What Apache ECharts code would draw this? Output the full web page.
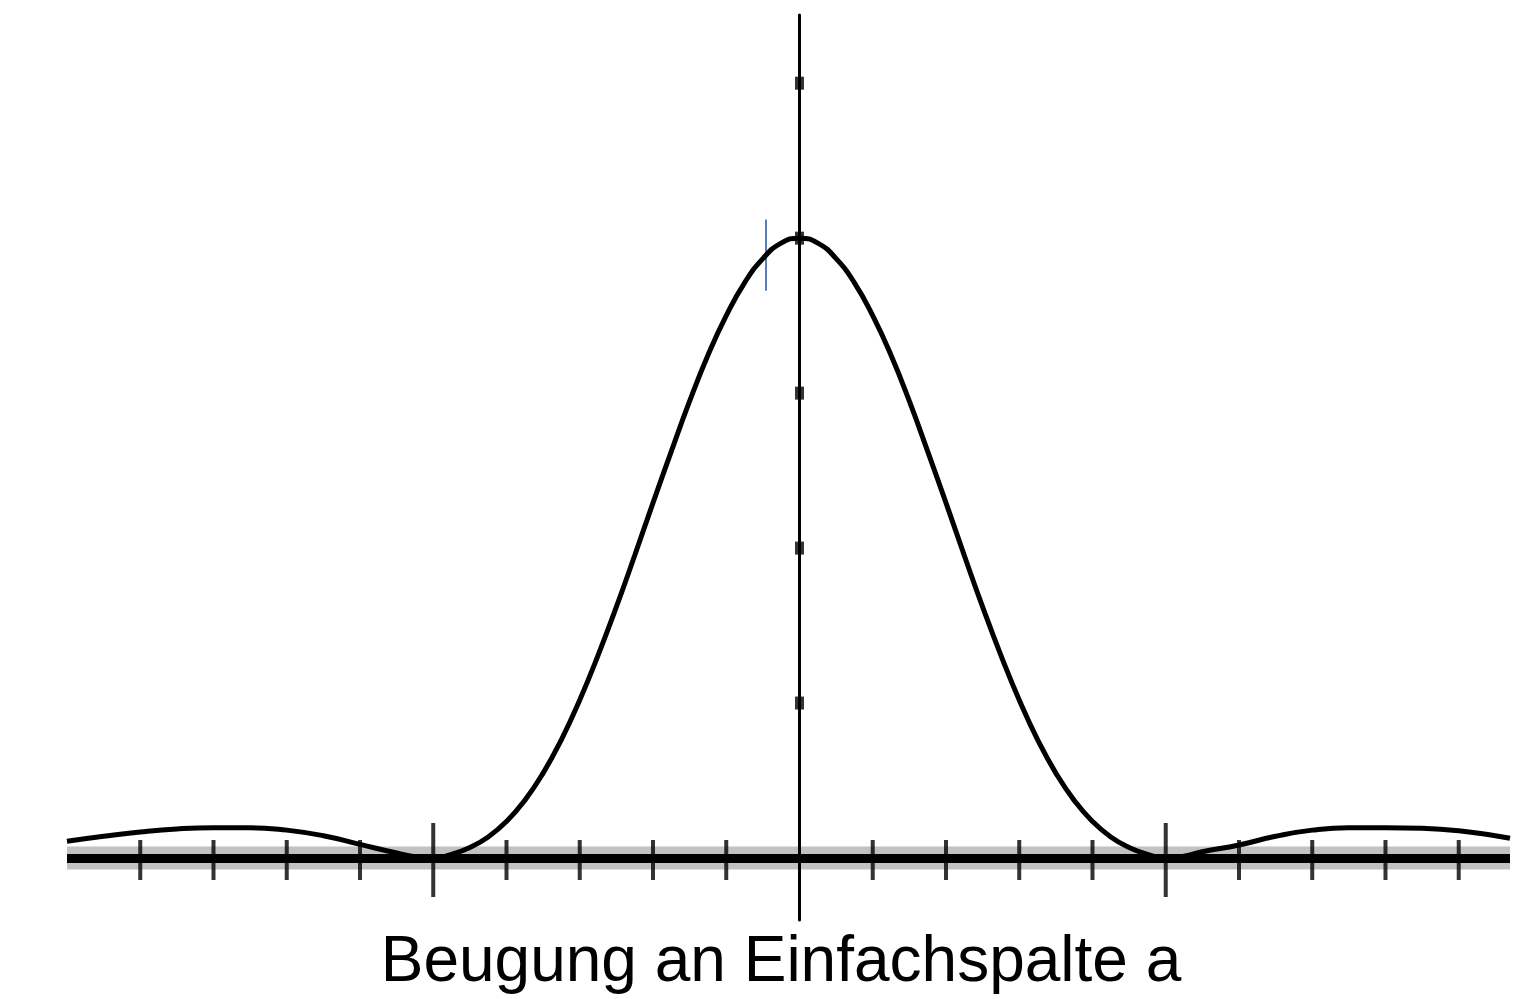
<!DOCTYPE html>
<html>
<head>
<meta charset="utf-8">
<title>Beugung an Einfachspalte a</title>
<script src="https://cdn.jsdelivr.net/npm/echarts@6/dist/echarts.min.js"></script>
<style>
  html, body { margin: 0; padding: 0; background: #ffffff; }
  #chart { width: 1517px; height: 999px; }
</style>
</head>
<body>
<div id="chart"></div>
<script>
// Position on the screen in units of the first minimum (sin α = λ/a)
const positions = [
  -2.0, -1.9, -1.8, -1.7, -1.6, -1.5, -1.4, -1.3, -1.2, -1.1, -1.05,
  -1.0, -0.95, -0.9, -0.85, -0.8, -0.75, -0.7, -0.65, -0.6, -0.55, -0.5,
  -0.45, -0.4, -0.35, -0.3, -0.25, -0.2, -0.15, -0.1, -0.05, 0.0,
  0.05, 0.1, 0.15, 0.2, 0.25, 0.3, 0.35, 0.4, 0.45, 0.5,
  0.55, 0.6, 0.65, 0.7, 0.75, 0.8, 0.85, 0.9, 0.95, 1.0,
  1.05, 1.1, 1.2, 1.3, 1.4, 1.5, 1.6, 1.7, 1.8, 1.9, 1.94
];

// Relative intensity I / I0
const intensity = [
  0.027, 0.035, 0.042, 0.047, 0.049, 0.049, 0.045, 0.036, 0.022, 0.008, 0.002,
  0.000, 0.006, 0.017, 0.034, 0.059, 0.093, 0.137, 0.191, 0.255, 0.327, 0.405,
  0.488, 0.573, 0.656, 0.737, 0.811, 0.875, 0.928, 0.967, 0.992, 1.000,
  0.992, 0.967, 0.928, 0.875, 0.811, 0.737, 0.656, 0.573, 0.488, 0.405,
  0.327, 0.255, 0.191, 0.137, 0.093, 0.059, 0.034, 0.017, 0.006, 0.000,
  0.003, 0.010, 0.021, 0.035, 0.045, 0.049, 0.049, 0.048, 0.044, 0.036, 0.032
];

// Tick marks on the screen axis
const minorTicks = [-1.8, -1.6, -1.4, -1.2, -0.8, -0.6, -0.4, -0.2,
                    0.2, 0.4, 0.6, 0.8, 1.2, 1.4, 1.6, 1.8];
const majorTicks = [-1.0, 1.0];

// Tick marks on the intensity axis
const intensityTicks = [0.25, 0.5, 0.75, 1.0, 1.25];

// Short pencil stroke near the top of the maximum
const pencilStroke = { x: -0.093, from: 0.915, to: 1.03 };

const titleText = 'Beugung an Einfachspalte a';

const chart = echarts.init(document.getElementById('chart'), null, { renderer: 'canvas' });

const option = {
  backgroundColor: '#ffffff',
  animation: false,
  grid: { left: 67, right: 7, top: 15, bottom: 79, containLabel: false },
  xAxis: {
    type: 'value',
    min: -2,
    max: 1.94,
    z: 3,
    axisLine: { show: true, onZero: true, lineStyle: { color: '#000000', width: 9, cap: 'butt' } },
    axisTick: { show: false },
    axisLabel: { show: false },
    splitLine: { show: false }
  },
  yAxis: {
    type: 'value',
    min: -0.1,
    max: 1.36,
    z: 3,
    axisLine: { show: true, onZero: true, lineStyle: { color: '#000000', width: 3 } },
    axisTick: { show: false },
    axisLabel: { show: false },
    splitLine: { show: false }
  },
  series: [
    {
      // grey halo along the screen axis
      type: 'line',
      data: [],
      z: 1,
      silent: true,
      markArea: {
        silent: true,
        itemStyle: { color: '#c2c2c2' },
        data: [[{ yAxis: -0.0185 }, { yAxis: 0.0185 }]]
      }
    },
    {
      type: 'scatter',
      z: 4,
      silent: true,
      symbol: 'rect',
      symbolSize: [4, 40],
      symbolOffset: [0, 2],
      itemStyle: { color: '#000000' },
      data: minorTicks.map(v => [v, 0])
    },
    {
      type: 'scatter',
      z: 4,
      silent: true,
      symbol: 'rect',
      symbolSize: [4, 74],
      symbolOffset: [0, 2],
      itemStyle: { color: '#000000' },
      data: majorTicks.map(v => [v, 0])
    },
    {
      type: 'scatter',
      z: 4,
      silent: true,
      symbol: 'rect',
      symbolSize: [9, 13],
      itemStyle: { color: '#000000' },
      data: intensityTicks.map(v => [0, v])
    },
    {
      name: 'Intensität',
      type: 'line',
      z: 5,
      smooth: 0.5,
      showSymbol: false,
      silent: true,
      lineStyle: { color: '#000000', width: 5 },
      data: positions.map((x, i) => [x, intensity[i]]),
      markLine: {
        silent: true,
        symbol: ['none', 'none'],
        label: { show: false },
        lineStyle: { color: '#5a7fb5', width: 2, type: 'solid' },
        data: [[
          { coord: [pencilStroke.x, pencilStroke.to] },
          { coord: [pencilStroke.x, pencilStroke.from] }
        ]]
      }
    }
  ],
  graphic: [
    {
      type: 'text',
      x: 781,
      y: 963,
      style: {
        text: titleText,
        fontFamily: '"Liberation Sans", Arial, Helvetica, sans-serif',
        fontSize: 64,
        fill: '#000000',
        align: 'center',
        verticalAlign: 'middle'
      }
    }
  ]
};

chart.setOption(option);
</script>
</body>
</html>
